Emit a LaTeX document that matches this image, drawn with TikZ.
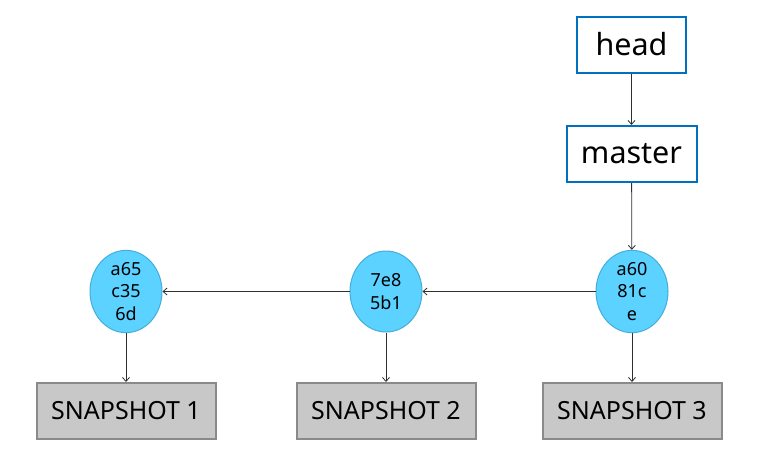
\documentclass[tikz,border=0pt]{standalone}
\usepackage{fontspec}
\setmainfont{Noto Sans}
\usetikzlibrary{arrows.meta,shapes.geometric}
\definecolor{refblue}{HTML}{0070C0}
\definecolor{commitfill}{HTML}{5BD2FF}
\definecolor{commitline}{HTML}{45AEDA}
\definecolor{snapfill}{HTML}{C8C8C8}
\definecolor{snapline}{HTML}{8A8A8A}
\definecolor{linkgray}{HTML}{303030}

\begin{document}
\begin{tikzpicture}
  [x=1pt,y=-1pt,
   ref/.style={draw=refblue,line width=2pt,fill=white,inner sep=0pt,
     minimum height=56pt,font=\fontsize{30.5}{36}\selectfont},
   commit/.style={ellipse,draw=commitline,line width=1pt,fill=commitfill,
     inner sep=0pt,minimum width=72pt,minimum height=81pt,align=center,
     font=\fontsize{18}{22.5}\selectfont},
   snap/.style={draw=snapline,line width=2pt,fill=snapfill,inner sep=0pt,
     minimum width=179pt,minimum height=56pt,font=\fontsize{25}{30}\selectfont},
   link/.style={draw=linkgray,line width=0.8pt,-{Straight Barb[length=4pt,width=7pt]}}]
  \useasboundingbox (0,0) rectangle (759,459);
  \node[ref,minimum width=109pt] (H) at (631.5,44.5) {head};
  \node[ref,minimum width=130pt] (M) at (631.5,154) {master};
  \node[commit] (C_1) at (126,291.5) {a65\\c35\\6d};
  \node[commit] (C_2) at (386,291.5) {7e8\\5b1};
  \node[commit] (C_3) at (632,291.5) {a60\\81c\\e};
  \node[snap] (S_1) at (126,411) {SNAPSHOT 1};
  \node[snap] (S_2) at (386,411) {SNAPSHOT 2};
  \node[snap] (S_3) at (632,411) {SNAPSHOT 3};
  \foreach \from/\to in {H/M,M/C_3,C_3/C_2,C_2/C_1,C_1/S_1,C_2/S_2,C_3/S_3}
    \draw[link] (\from) -- (\to);

\end{tikzpicture}
\end{document}
